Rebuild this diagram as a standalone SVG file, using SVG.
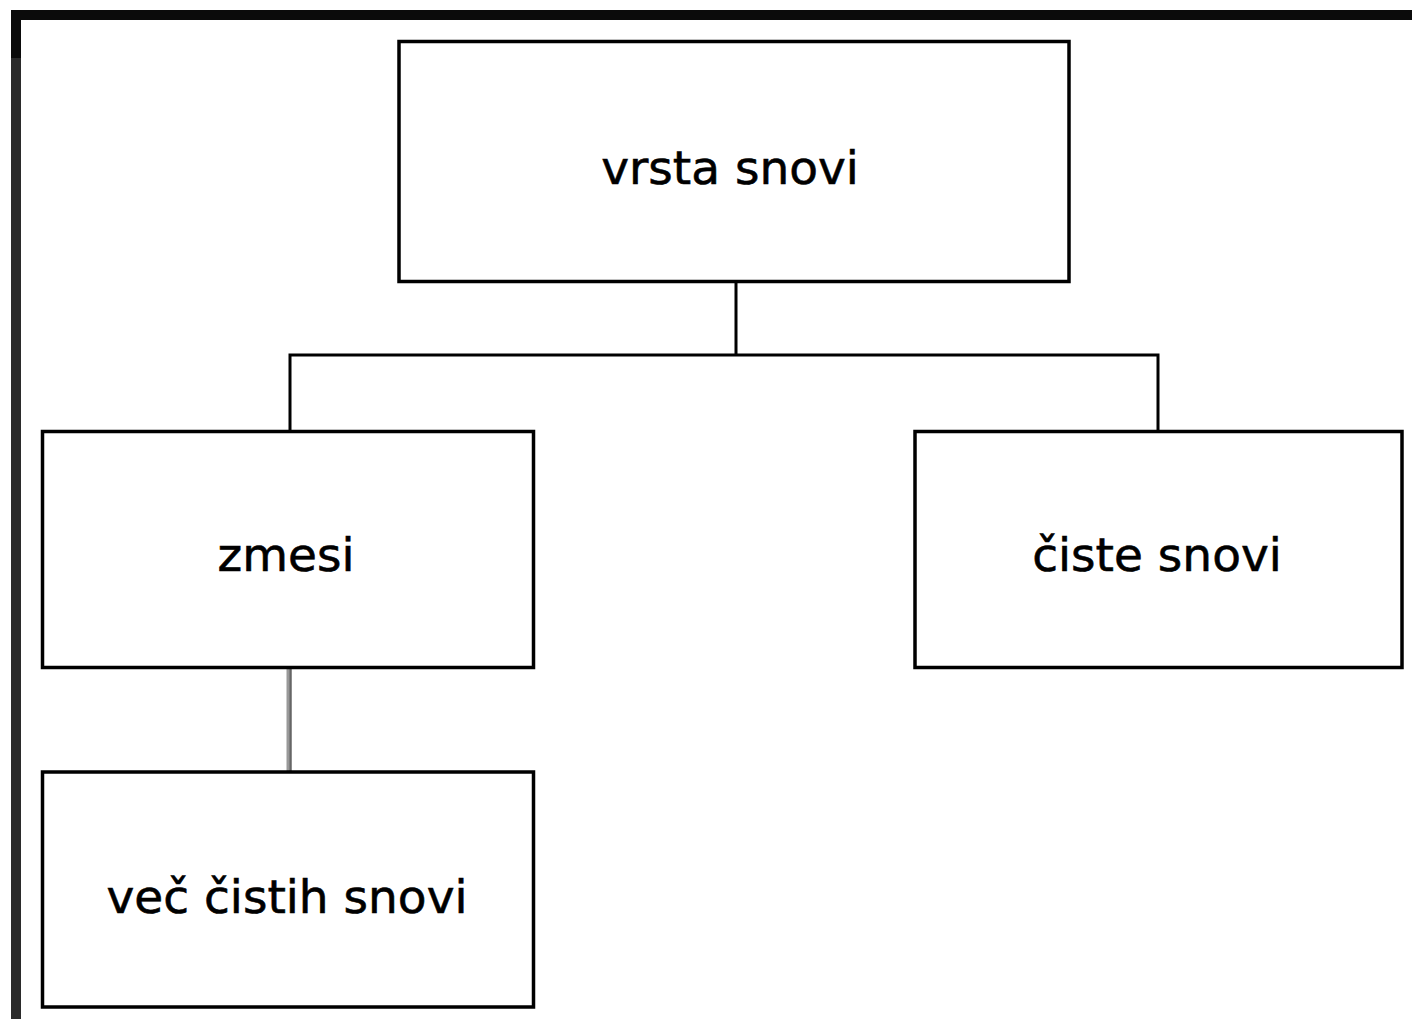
<svg xmlns="http://www.w3.org/2000/svg" width="1412" height="1019" viewBox="0 0 1412 1019">
<style>
.box{fill:#ffffff;stroke:#000000;stroke-width:3.5}
.lbl{font-family:"DejaVu Sans",Verdana,sans-serif;font-size:47px;fill:#000000;stroke:#000000;stroke-width:0.6;text-anchor:middle}
.con{stroke:#000000;stroke-width:3;fill:none}
</style>
<rect x="0" y="0" width="1412" height="1019" fill="#ffffff"/>
<g id="frame">
<rect x="11" y="10" width="1401" height="10" fill="#0b0b0b"/>
<rect x="11" y="10" width="10" height="48" fill="#0b0b0b"/>
<rect x="11" y="58" width="10" height="961" fill="#2b2b2b"/>
</g>
<g id="connectors">
<path class="con" d="M736 283 V355 M288.5 355 H1159.5 M290 354 V430 M1158 354 V430"/>
<line x1="288" y1="669" x2="288" y2="771" stroke="#999999" stroke-width="3"/>
<line x1="290.5" y1="669" x2="290.5" y2="771" stroke="#666666" stroke-width="2.5"/>
</g>
<g id="node-vrsta">
<rect class="box" x="399" y="41.5" width="670" height="240"/>
<text class="lbl" x="730" y="184">vrsta snovi</text>
</g>
<g id="node-zmesi">
<rect class="box" x="42.5" y="431.5" width="491" height="236"/>
<text class="lbl" x="286" y="571">zmesi</text>
</g>
<g id="node-ciste">
<rect class="box" x="915" y="431.5" width="487" height="236"/>
<text class="lbl" x="1157" y="571">čiste snovi</text>
</g>
<g id="node-vec">
<rect class="box" x="42.5" y="772" width="491" height="235"/>
<text class="lbl" x="287" y="913">več čistih snovi</text>
</g>
</svg>
